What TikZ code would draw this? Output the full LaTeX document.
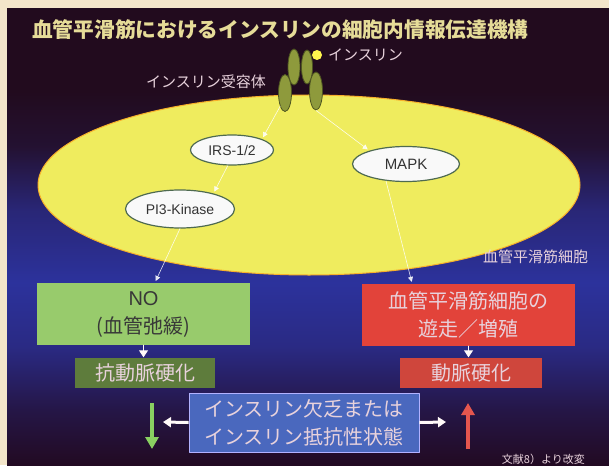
\documentclass[tikz,border=0pt]{standalone}
\usepackage{fontspec}
\setmainfont{Noto Sans CJK JP}
\newfontfamily\latin{Liberation Sans}
\usetikzlibrary{shapes.geometric,arrows.meta,positioning}

\definecolor{paper}{HTML}{F3E5CA}
\definecolor{bgtop}{HTML}{220B1E}
\definecolor{bgblue}{HTML}{2C329C}
\definecolor{bgbot}{HTML}{220A22}
\definecolor{cellyellow}{HTML}{EFEC5E}
\definecolor{recolive}{HTML}{8E9A3C}
\definecolor{molborder}{HTML}{4E6A50}
\definecolor{titlecol}{HTML}{E6DC98}
\definecolor{pinkish}{HTML}{E8D2DC}
\definecolor{nogreen}{HTML}{98CB6C}
\definecolor{darkgreen}{HTML}{5E7C3C}
\definecolor{growred}{HTML}{E2433A}
\definecolor{athred}{HTML}{CF463C}
\definecolor{stateblue}{HTML}{4A68BE}

% backdrop: dark purple, blue band around the bottom of the cell
\pgfdeclareverticalshading{backdrop}{100bp}{color(0bp)=(bgbot); color(25bp)=(bgbot);
  color(31bp)=(bgbot!70!bgblue); color(38bp)=(bgblue!80!bgbot); color(45bp)=(bgblue);
  color(53bp)=(bgblue!70!bgtop); color(60bp)=(bgtop!85!bgblue); color(66bp)=(bgtop); color(100bp)=(bgtop)}

\begin{document}
\begin{tikzpicture}[x=1pt,y=-1pt,line join=round,line cap=round]
	\tikzset{
		receptor/.style={ellipse, draw=recolive!55!black, fill=recolive, line width=0.8pt, inner sep=0pt, minimum width=12pt, minimum height=36pt},
		molecule/.style={ellipse, draw=molborder, fill=white!95!gray, line width=1.2pt, inner sep=0pt, text=black!80, font=\latin\fontsize{14}{16}\selectfont},
		signal/.style={draw=white, opacity=0.85, line width=0.6pt, shorten >=2pt, -{Triangle[width=5pt,length=5pt]}},
		panel/.style={rectangle, inner sep=0pt, align=center, font=\fontsize{20}{28}\selectfont, text=pinkish},
		pointer/.style={draw=white!92!pink, line width=1pt, -{Triangle[width=9pt,length=7pt]}},
		fatarrow/.style={line width=4pt, line cap=butt, -{Triangle[width=13pt,length=12pt]}},
		lbl/.style={text=pinkish, font=\fontsize{15}{17}\selectfont}
	}
	\useasboundingbox (0,0) rectangle (609,465);
	\fill[paper] (0,0) rectangle (609,465);
	\shade[shading=backdrop] (7,9) rectangle (609,465);
	
	\node[anchor=west, text=titlecol, font=\bfseries\fontsize{20.7}{24}\selectfont, inner sep=0pt] (title) at (32,30) {血管平滑筋におけるインスリンの細胞内情報伝達機構};
	
	% the cell and its receptor
	\node[ellipse, fill=cellyellow, draw=orange!55!cellyellow, line width=1pt, minimum width=542pt, minimum height=180pt] (cell) at (309,185) {};
	\node[lbl, anchor=west, inner sep=0pt] (celllbl) at (483,257) {血管平滑筋細胞};
	
	\node[receptor] (rtl) at (294,67) {};
	\node[receptor, minimum width=11pt, minimum height=34pt] (rtr) at (307,67) {};
	\node[receptor, minimum width=13pt, minimum height=37pt] (rbl) at (285,93) {};
	\node[receptor, minimum width=13pt, minimum height=38pt] (rbr) at (316,91) {};
	\node[circle, fill=yellow!70!white, inner sep=0pt, minimum size=10pt] (ins) at (317,55) {};
	\node[lbl, anchor=west, inner sep=0pt] (inslbl) at (328,55) {インスリン};
	\node[lbl, anchor=east, inner sep=0pt] (reclbl) at (266,82) {インスリン受容体};
	
	% signalling molecules
	\node[molecule, minimum width=83pt, minimum height=30pt] (irs) at (232,150) {IRS-1/2};
	\node[molecule, minimum width=107pt, minimum height=35pt, font=\latin\fontsize{15}{17}\selectfont] (mapk) at (406,164) {MAPK};
	\node[molecule, minimum width=109pt, minimum height=38pt] (pi3) at (180,209) {PI3-Kinase};
	
	% outcome boxes
	\node[panel, fill=nogreen, text=black!78, minimum width=213pt, minimum height=62pt] (no) at (143.5,314) {{\latin NO}\\(血管弛緩)};
	\node[panel, fill=growred, minimum width=213pt, minimum height=62pt] (grow) at (468.5,315) {血管平滑筋細胞の\\遊走／増殖};
	\node[panel, fill=darkgreen, minimum width=140pt, minimum height=30pt] (anti) at (145,372.5) {抗動脈硬化};
	\node[panel, fill=athred, minimum width=142pt, minimum height=30pt] (athero) at (471,372.5) {動脈硬化};
	\node[panel, fill=stateblue, draw=blue!30!white, line width=0.6pt, minimum width=230pt, minimum height=59pt] (state) at (304,422.5) {インスリン欠乏または\\インスリン抵抗性状態};
	
	\draw[signal] (rbl.250) -- (irs.20);
	\draw[signal] (rbr.south) -- (mapk.160);
	\draw[signal] (irs.255) -- (pi3.25);
	\draw[signal] (pi3.south) -- (no.70);
	\draw[signal] (mapk.220) -- (grow.151);
	
	\draw[pointer] (no.south) -- (no.south |- anti.north);
	\draw[pointer] (grow.south) -- (grow.south |- athero.north);
	
	\coordinate (lefttip) at (163,422);
	\coordinate (righttip) at (446,422);
	\coordinate (downtop) at (152,403);
	\coordinate (downtip) at (152,449);
	\coordinate (upbase) at (468,449);
	\coordinate (uptip) at (468,403);
	\draw[fatarrow, white!90!pink, line width=3pt, -{Triangle[width=10pt,length=8pt]}] (state.west) -- (lefttip);
	\draw[fatarrow, white!90!pink, line width=3pt, -{Triangle[width=10pt,length=8pt]}] (state.east) -- (righttip);
	\draw[fatarrow, nogreen!90!green] (downtop) -- (downtip);
	\draw[fatarrow, growred!90!white] (upbase) -- (uptip);
	
	\node[text=pinkish, font=\fontsize{11}{13}\selectfont, anchor=east, inner sep=0pt] (source) at (585,459) {文献8）より改変};
\end{tikzpicture}
\end{document}
